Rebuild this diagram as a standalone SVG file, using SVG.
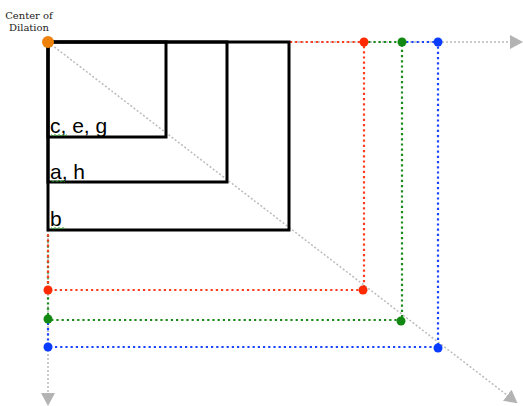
<svg xmlns="http://www.w3.org/2000/svg" width="523" height="406" viewBox="0 0 523 406">
<style>
.sq{fill:none;stroke:#000;stroke-width:3}
.gray{fill:none;stroke:#bbb;stroke-width:1.5;stroke-dasharray:2 2}
.red{fill:none;stroke:#ff3b1f;stroke-width:2.2;stroke-dasharray:2.2 3}
.green{fill:none;stroke:#1a8a1a;stroke-width:2.2;stroke-dasharray:2.2 3}
.blue{fill:none;stroke:#1a44ff;stroke-width:2.2;stroke-dasharray:2.2 3}
.lbl{font-family:"Liberation Sans",Arial,sans-serif;font-size:21px;fill:#000}
.cap{font-family:"DejaVu Serif","Liberation Serif",serif;font-size:10px;fill:#222;text-anchor:middle}
.sq2{fill:none;stroke:#2a9a2a;stroke-width:0.8}
</style>
<defs>
<marker id="ah" markerWidth="13" markerHeight="14" refX="11" refY="7" orient="auto" markerUnits="userSpaceOnUse" viewBox="0 0 13 14">
<path d="M0,0 L13,7 L0,14 z" fill="#b3b3b3"/>
</marker>
</defs>
<g id="connectors">
<line class="gray" x1="290" y1="42" x2="521" y2="42" marker-end="url(#ah)"/>
<line class="gray" x1="48" y1="230" x2="48" y2="404" marker-end="url(#ah)"/>
<line class="gray" x1="48" y1="42" x2="516" y2="402" marker-end="url(#ah)"/>
<polyline class="blue" points="401,42 438,42 438,347 48,347 48,320"/>
<polyline class="green" points="363,42 402,42 402,320 48,320 48,233"/>
<polyline class="red" points="290,42 364,42 364,290 48,290 48,232"/>
</g>
<g id="square-b"><rect class="sq" x="48" y="42" width="241" height="188"/></g>
<g id="square-ah"><rect class="sq" x="48" y="42" width="179" height="140"/></g>
<g id="square-ceg"><rect class="sq" x="48" y="42" width="118" height="95"/></g>
<g id="labels">
<text class="lbl" x="50" y="133">c, e, g</text>
<text class="lbl" x="50" y="179">a, h</text>
<text class="lbl" x="50" y="226">b</text>
<path class="sq2" d="M51,134.5 l2,1.5 l2,-1.5 l2,1.5 l2,-1.5 l2,1.5 l2,-1.5 l2,1.5 l2,-1.5"/>
<path class="sq2" d="M51,180.5 l2,1.5 l2,-1.5 l2,1.5 l2,-1.5 l2,1.5 l2,-1.5 l2,1.5"/>
<path class="sq2" d="M51,227.5 l2,1.5 l2,-1.5 l2,1.5 l2,-1.5 l2,1.5 l2,-1.5 l2,1.5"/>
</g>
<g id="center">
<text class="cap" x="29" y="19">Center of</text>
<text class="cap" x="29" y="31">Dilation</text>
<circle cx="48" cy="42" r="6" fill="#ee8209"/>
</g>
<g id="points">
<circle cx="364" cy="42" r="4.5" fill="#ff2a00"/>
<circle cx="402" cy="42" r="4.5" fill="#118811"/>
<circle cx="438" cy="42" r="4.5" fill="#0a3cff"/>
<circle cx="48" cy="290" r="4.5" fill="#ff2a00"/>
<circle cx="48" cy="319" r="4.5" fill="#118811"/>
<circle cx="48" cy="347" r="4.5" fill="#0a3cff"/>
<circle cx="363" cy="290" r="4.5" fill="#ff2a00"/>
<circle cx="401" cy="321" r="4.5" fill="#118811"/>
<circle cx="438" cy="348" r="4.5" fill="#0a3cff"/>
</g>
</svg>
